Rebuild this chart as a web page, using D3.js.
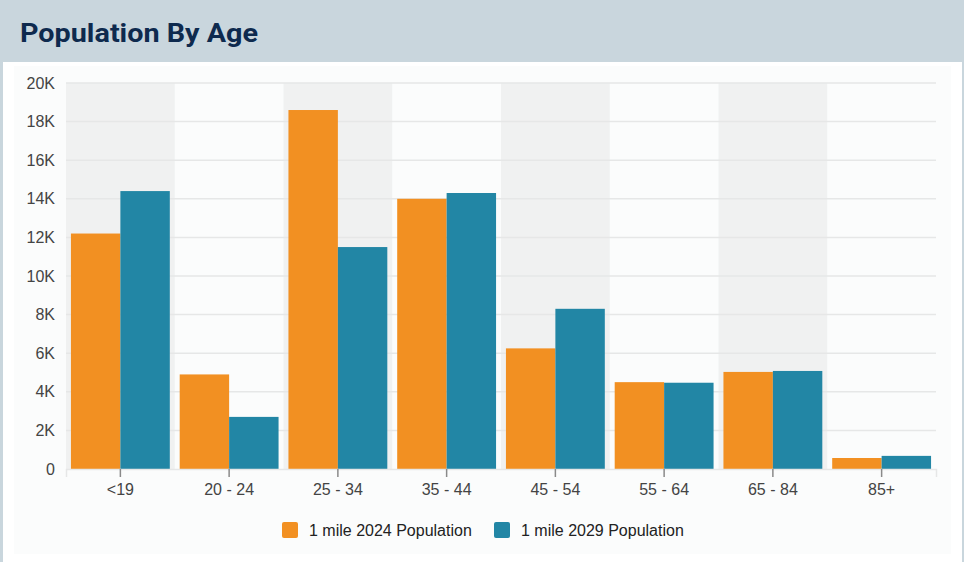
<!DOCTYPE html>
<html>
<head>
<meta charset="utf-8">
<script src="https://cdn.jsdelivr.net/npm/d3@7"></script>
<style>
  body { margin: 0; background: #ffffff; }
  svg { display: block; }
</style>
</head>
<body>
<svg id="chart" width="966" height="562"></svg>
<script>
let categories = ['<19', '20 - 24', '25 - 34', '35 - 44', '45 - 54', '55 - 64', '65 - 84', '85+'];
let series_names = ['1 mile 2024 Population', '1 mile 2029 Population'];
let pop_2024 = [12200, 4900, 18600, 14000, 6250, 4500, 5030, 570];
let pop_2029 = [14400, 2700, 11500, 14300, 8300, 4470, 5080, 680];
let y_ticks = [0, 2000, 4000, 6000, 8000, 10000, 12000, 14000, 16000, 18000, 20000];

let series_colors = ['#f29022', '#2286a5'];
let margin = {left: 66, right: 30, top: 83, bottom: 93};
let width = 966, height = 562;
let label_font = '"Liberation Sans", Arial, sans-serif';

let svg = d3.select('#chart');

// frame + header
svg.append('rect').attr('x', 0).attr('y', 0).attr('width', 964).attr('height', height).attr('fill', '#c9d6dd');
svg.append('rect').attr('x', 3).attr('y', 62).attr('width', 959).attr('height', 500).attr('fill', '#ffffff');
svg.append('rect').attr('x', 14).attr('y', 66).attr('width', 937).attr('height', 488).attr('fill', '#fbfcfc');

svg.append('text')
  .attr('x', 20).attr('y', 42)
  .attr('font-family', 'Roboto, "Open Sans", sans-serif')
  .attr('font-weight', 700)
  .attr('font-size', 26)
  .attr('fill', '#0e2a4e')
  .attr('textLength', 238)
  .attr('lengthAdjust', 'spacingAndGlyphs')
  .text('Population By Age');

let x = d3.scaleBand()
  .domain(categories)
  .range([margin.left, width - margin.right]);

let x_inner = d3.scaleBand()
  .domain([0, 1])
  .range([0, x.bandwidth()])
  .paddingOuter(0.1);

let y = d3.scaleLinear()
  .domain([0, 20000])
  .range([height - margin.bottom, margin.top]);

// alternating band shading
svg.selectAll('.band-bg')
  .data(categories.filter((d, i) => i % 2 == 0))
  .enter().append('rect')
  .attr('class', 'band-bg')
  .attr('x', d => x(d))
  .attr('y', y(20000))
  .attr('width', x.bandwidth())
  .attr('height', y(0) - y(20000))
  .attr('fill', '#f0f1f1');

// grid lines
svg.selectAll('.grid-line')
  .data(y_ticks.slice(1))
  .enter().append('line')
  .attr('class', 'grid-line')
  .attr('x1', margin.left).attr('x2', width - margin.right)
  .attr('y1', d => y(d)).attr('y2', d => y(d))
  .attr('stroke', '#e6e7e7')
  .attr('stroke-width', 1.5);

// bars
let groups = svg.selectAll('.cat')
  .data(categories)
  .enter().append('g')
  .attr('class', 'cat')
  .attr('transform', d => `translate(${x(d)},0)`);

groups.selectAll('rect')
  .data((d, i) => [pop_2024[i], pop_2029[i]])
  .enter().append('rect')
  .attr('x', (d, j) => x_inner(j))
  .attr('y', d => y(d))
  .attr('width', x_inner.bandwidth())
  .attr('height', d => y(0) - y(d))
  .attr('fill', (d, j) => series_colors[j]);

// x axis
let x_axis = svg.append('g')
  .attr('transform', `translate(0,${y(0)})`)
  .call(d3.axisBottom(x).tickSize(8).tickPadding(7));
x_axis.select('.domain').attr('stroke', '#e6e7e7').attr('stroke-width', 1.5);
x_axis.selectAll('.tick line').attr('stroke', '#8a8a8a').attr('stroke-width', 1.5);
x_axis.selectAll('text')
  .attr('font-family', label_font)
  .attr('font-size', 16)
  .attr('fill', '#444');

// y axis
let y_axis = svg.append('g')
  .attr('transform', `translate(${margin.left},0)`)
  .call(d3.axisLeft(y).tickValues(y_ticks).tickSize(0).tickPadding(11)
    .tickFormat(d => d == 0 ? '0' : (d / 1000) + 'K'));
y_axis.select('.domain').remove();
y_axis.selectAll('text')
  .attr('font-family', label_font)
  .attr('font-size', 16)
  .attr('fill', '#444');

// legend
let legend_x = [282, 494];
let legend = svg.selectAll('.legend-item')
  .data(series_names)
  .enter().append('g')
  .attr('class', 'legend-item')
  .attr('transform', (d, i) => `translate(${legend_x[i]},522)`);

legend.append('rect')
  .attr('width', 16).attr('height', 16)
  .attr('rx', 2)
  .attr('fill', (d, i) => series_colors[i]);

legend.append('text')
  .attr('x', 27).attr('y', 14)
  .attr('font-family', label_font)
  .attr('font-size', 16)
  .attr('fill', '#222')
  .text(d => d);
</script>
</body>
</html>
